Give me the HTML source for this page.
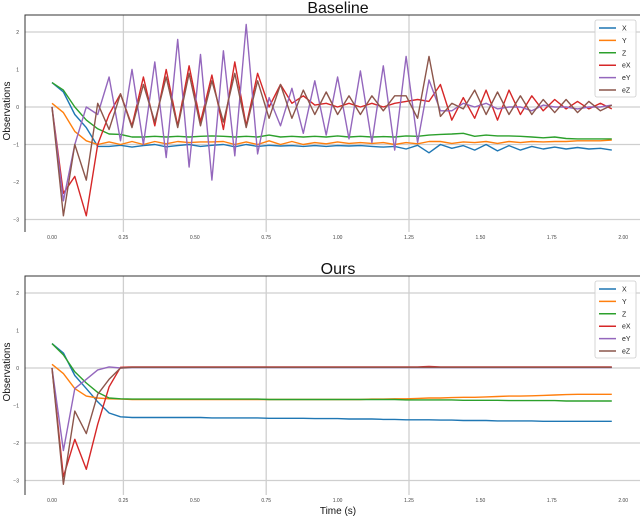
<!DOCTYPE html>
<html><head><meta charset="utf-8"><style>
html,body{margin:0;padding:0;background:#fff;}
svg{display:block;font-family:"Liberation Sans","DejaVu Sans",sans-serif;}
</style></head><body>
<svg id="chart" width="640" height="516" viewBox="0 0 640 516"></svg>
<script>
const seriesNames=["X","Y","Z","eX","eY","eZ"];
const seriesColors=["#1f77b4","#ff7f0e","#2ca02c","#d62728","#9467bd","#8c564b"];
const xTicks=[0,0.25,0.5,0.75,1.0,1.25,1.5,1.75,2.0];
const xTickLabels=["0.00","0.25","0.50","0.75","1.00","1.25","1.50","1.75","2.00"];
const yTicks=[2,1,0,-1,-2,-3];
const yTickLabels=["2","1","0","\u22121","\u22122","\u22123"];
const timeStep=0.04;
const baseX=[0.65,0.4,-0.2,-0.55,-1.05,-1.05,-1.02,-1.07,-1.03,-1.0,
-1.06,-1.03,-1.0,-1.05,-1.02,-1.0,-1.06,-1.0,-1.05,-1.02,
-1.04,-1.03,-1.05,-1.03,-1.05,-1.03,-1.04,-1.03,-1.05,-1.07,
-1.05,-1.12,-1.02,-1.22,-1.0,-1.1,-1.03,-1.15,-1.0,-1.17,
-1.03,-1.15,-1.05,-1.12,-1.07,-1.12,-1.08,-1.12,-1.1,-1.15];
const baseY=[0.1,-0.15,-0.65,-0.9,-1.0,-0.93,-1.0,-0.92,-1.0,-0.92,
-0.98,-0.92,-0.95,-0.93,-0.93,-0.92,-1.0,-0.93,-1.0,-0.9,
-1.0,-0.92,-1.0,-0.95,-0.98,-0.93,-0.97,-0.95,-0.97,-0.95,
-1.0,-0.95,-0.98,-0.92,-0.92,-0.97,-0.93,-0.95,-0.92,-0.97,
-0.92,-0.95,-0.92,-0.93,-0.92,-0.92,-0.9,-0.9,-0.9,-0.88];
const baseZ=[0.65,0.45,0.0,-0.35,-0.58,-0.72,-0.73,-0.8,-0.8,-0.78,
-0.8,-0.78,-0.8,-0.78,-0.77,-0.78,-0.8,-0.78,-0.8,-0.75,
-0.8,-0.78,-0.8,-0.78,-0.8,-0.77,-0.8,-0.78,-0.8,-0.79,
-0.8,-0.77,-0.78,-0.75,-0.73,-0.72,-0.7,-0.78,-0.75,-0.77,
-0.77,-0.78,-0.8,-0.82,-0.8,-0.84,-0.85,-0.85,-0.85,-0.85];
const baseEX=[0,-2.3,-1.85,-2.9,-1.0,-0.2,0.35,-0.5,0.8,-0.5,
1.0,-0.5,1.1,-0.4,0.85,-0.6,1.2,-0.5,0.9,0.0,
0.6,0.1,0.3,0.05,0.1,0.0,0.1,0.0,0.1,0.0,
0.1,0.15,0.2,0.15,0.6,-0.35,0.25,-0.3,0.45,-0.35,
0.45,-0.2,0.3,-0.1,0.2,-0.05,0.15,-0.05,0.1,-0.05];
const baseEY=[0,-2.5,-1.0,0.0,-0.2,0.8,-0.9,1.0,-1.0,1.2,
-1.35,1.8,-1.6,1.4,-1.95,1.5,-1.3,2.2,-1.25,0.25,
-0.5,0.5,-0.7,0.7,-0.75,0.8,-0.85,0.96,-0.95,1.1,
-1.15,1.35,-0.95,0.72,-0.1,-0.1,0.1,0.0,0.1,-0.05,
0.0,0.0,-0.1,0.05,0.0,0.0,-0.05,0.0,0.0,0.05];
const baseEZ=[0,-2.9,-1.0,-1.95,0.1,-0.6,0.35,-0.55,0.6,-0.4,
0.8,-0.55,0.9,-0.5,0.7,-0.4,0.9,-0.55,0.7,-0.3,
0.6,-0.3,0.45,-0.2,0.4,-0.2,0.3,-0.2,0.3,-0.1,
0.3,0.3,-0.3,1.35,-0.25,0.1,-0.05,0.45,-0.2,0.4,
-0.2,0.3,-0.2,0.2,-0.15,0.2,-0.15,0.15,-0.1,0.05];
const oursX=[0.65,0.4,-0.2,-0.55,-0.9,-1.2,-1.3,-1.32,-1.32,-1.32,
-1.32,-1.32,-1.32,-1.32,-1.33,-1.33,-1.33,-1.33,-1.33,-1.34,
-1.34,-1.34,-1.34,-1.35,-1.35,-1.35,-1.36,-1.36,-1.36,-1.37,
-1.37,-1.38,-1.38,-1.38,-1.39,-1.39,-1.4,-1.4,-1.4,-1.41,
-1.41,-1.41,-1.41,-1.42,-1.42,-1.42,-1.42,-1.42,-1.42,-1.42];
const oursY=[0.1,-0.15,-0.55,-0.75,-0.8,-0.82,-0.83,-0.84,-0.84,-0.84,
-0.84,-0.84,-0.84,-0.84,-0.84,-0.84,-0.84,-0.84,-0.84,-0.84,
-0.84,-0.84,-0.84,-0.84,-0.84,-0.84,-0.84,-0.84,-0.83,-0.83,
-0.82,-0.82,-0.81,-0.8,-0.8,-0.79,-0.78,-0.78,-0.77,-0.76,
-0.75,-0.75,-0.74,-0.73,-0.72,-0.71,-0.7,-0.7,-0.7,-0.7];
const oursZ=[0.65,0.35,-0.1,-0.4,-0.65,-0.8,-0.82,-0.83,-0.83,-0.83,
-0.83,-0.83,-0.83,-0.83,-0.83,-0.83,-0.83,-0.83,-0.83,-0.84,
-0.84,-0.84,-0.84,-0.84,-0.84,-0.84,-0.84,-0.84,-0.84,-0.84,
-0.84,-0.85,-0.85,-0.85,-0.85,-0.85,-0.86,-0.86,-0.86,-0.86,
-0.87,-0.87,-0.87,-0.87,-0.87,-0.88,-0.88,-0.88,-0.88,-0.88];
const oursEX=[0,-2.9,-1.9,-2.7,-1.5,-0.5,0.02,0.03,0.03,0.03,
0.03,0.03,0.03,0.03,0.03,0.03,0.03,0.03,0.03,0.03,
0.03,0.03,0.03,0.03,0.03,0.03,0.03,0.03,0.03,0.03,
0.03,0.03,0.03,0.04,0.03,0.03,0.03,0.03,0.03,0.03,
0.03,0.03,0.03,0.03,0.03,0.03,0.03,0.03,0.03,0.03];
const oursEY=[0,-2.2,-0.55,-0.3,-0.05,0.03,0.0,0.01,0.01,0.01,
0.01,0.01,0.01,0.01,0.01,0.01,0.01,0.01,0.01,0.01,
0.01,0.01,0.01,0.01,0.01,0.01,0.01,0.01,0.01,0.01,
0.01,0.01,0.01,0.01,0.01,0.01,0.01,0.01,0.01,0.01,
0.01,0.01,0.01,0.01,0.01,0.01,0.01,0.01,0.01,0.01];
const oursEZ=[0,-3.1,-1.15,-1.75,-0.7,-0.3,0.0,0.02,0.02,0.02,
0.02,0.02,0.02,0.02,0.02,0.02,0.02,0.02,0.02,0.02,
0.02,0.02,0.02,0.02,0.02,0.02,0.02,0.02,0.02,0.02,
0.02,0.02,0.02,0.02,0.02,0.02,0.02,0.02,0.02,0.02,
0.02,0.02,0.02,0.02,0.02,0.02,0.02,0.02,0.02,0.02];

const NS="http://www.w3.org/2000/svg";
const svg=document.getElementById("chart");
function mk(tag,attrs,parent){const e=document.createElementNS(NS,tag);for(const k in attrs)e.setAttribute(k,attrs[k]);(parent||svg).appendChild(e);return e;}

function drawPanel(cfg){
  const g=mk("g",{});
  
  
  const xs=t=>52+t*285.6;
  const ys=v=>cfg.zeroY-v*37.5;
  // gridlines
  cfg.vGrid.forEach(t=>{const l=mk("line",{x1:xs(t),x2:xs(t),y1:cfg.top,y2:cfg.bottom,stroke:"#cfcfcf","stroke-width":1.3},g);
    });
  cfg.hGrid.forEach(v=>{const l=mk("line",{x1:25,x2:640,y1:ys(v),y2:ys(v),stroke:"#cfcfcf","stroke-width":1.3},g);
    });
  // spines
  const sp=mk("path",{d:`M25 ${cfg.bottom} V${cfg.top} H640`,fill:"none",stroke:"#333","stroke-width":1},g);
  
  // ticks
  xTicks.forEach((t,i)=>{const tx=mk("text",{x:xs(t),y:cfg.bottom+7,"font-size":5,fill:"#444","text-anchor":"middle"},g);
    tx.textContent=xTickLabels[i];});
  yTicks.forEach((v,i)=>{const tx=mk("text",{x:19,y:ys(v)+2,"font-size":5,fill:"#444","text-anchor":"end"},g);
    tx.textContent=yTickLabels[i];});
  // title
  const ti=mk("text",{x:338,y:cfg.top-2,"font-size":16,fill:"#111","text-anchor":"middle"},g);
  ti.textContent=cfg.title;
  const yl=mk("text",{x:0,y:0,"font-size":10,fill:"#111","text-anchor":"middle",transform:`translate(10 ${cfg.zeroY+4}) rotate(-90)`},g);
  yl.textContent="Observations";
  // series
  cfg.series.forEach((arr,si)=>{
    const d=arr.map((v,i)=>(i?"L":"M")+xs(i*timeStep).toFixed(1)+" "+ys(v).toFixed(1)).join(" ");
    const p=mk("path",{d:d,fill:"none",stroke:seriesColors[si],"stroke-width":1.4,"stroke-linejoin":"round"},g);
    
    
  });
  // legend
  const lg=mk("g",{},g);
  
  mk("rect",{x:595,y:cfg.top+5,width:41,height:77,rx:2,fill:"#fff","fill-opacity":0.85,stroke:"#ccc","stroke-width":0.8},lg);
  seriesNames.forEach((n,i)=>{
    const yy=cfg.top+13+i*12.4;
    const e=mk("g",{},lg);
    
    mk("line",{x1:599,x2:616,y1:yy,y2:yy,stroke:seriesColors[i],"stroke-width":1.5},e);
    const tx=mk("text",{x:622,y:yy+2.5,"font-size":7,fill:"#222"},e);tx.textContent=n;
  });
}
drawPanel({name:"baseline-panel",title:"Baseline",top:15,bottom:232,zeroY:107,vGrid:[0.25,0.75,1.25],hGrid:[2,0,-1,-3],
  series:[baseX,baseY,baseZ,baseEX,baseEY,baseEZ]});
drawPanel({name:"ours-panel",title:"Ours",top:276,bottom:495,zeroY:368,vGrid:[0.25,0.75,1.25],hGrid:[2,0,-2,-3],
  series:[oursX,oursY,oursZ,oursEX,oursEY,oursEZ]});
const xl=mk("text",{x:338,y:514,"font-size":10,fill:"#111","text-anchor":"middle"});
xl.textContent="Time (s)";


</script>
</body></html>
